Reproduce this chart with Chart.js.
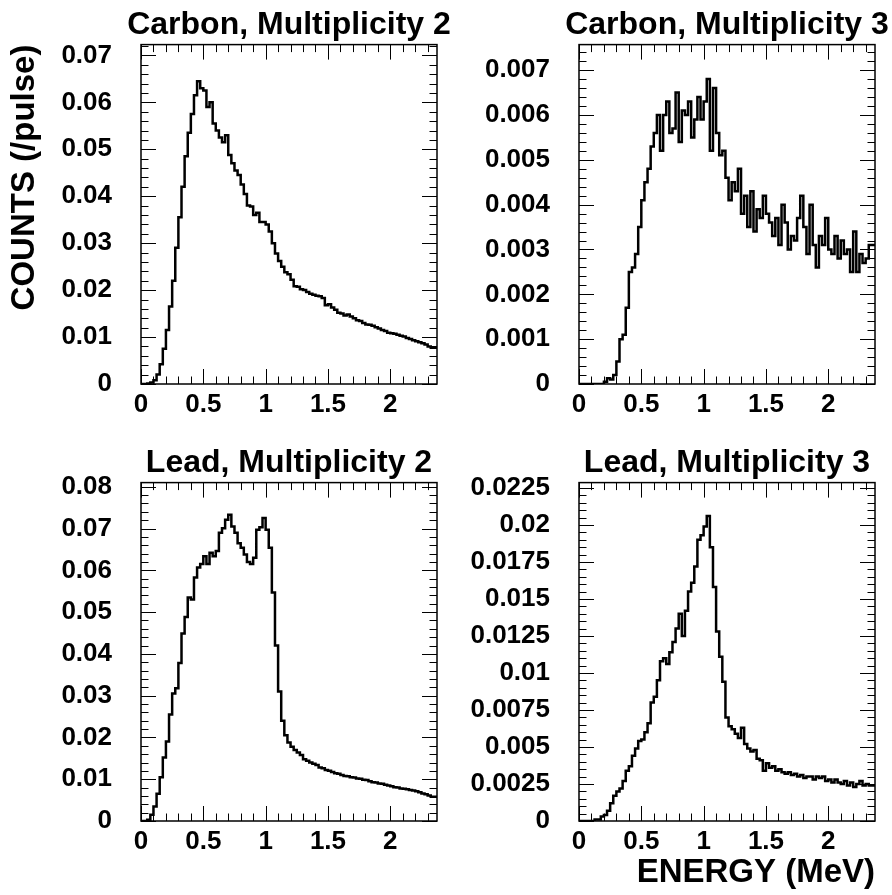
<!DOCTYPE html>
<html>
<head>
<meta charset="utf-8">
<script src="https://cdn.jsdelivr.net/npm/chart.js@4.4.1/dist/chart.umd.min.js"></script>
<style>
  body { margin: 0; background: #fff; }
  #page { position: relative; width: 892px; height: 895px; overflow: hidden; }
  canvas { position: absolute; }
</style>
</head>
<body>
<div id="page">
  <canvas id="carbon2" width="470" height="438" style="left:0;top:0"></canvas>
  <canvas id="carbon3" width="446" height="438" style="left:446px;top:0"></canvas>
  <canvas id="lead2" width="470" height="457" style="left:0;top:438px"></canvas>
  <canvas id="lead3" width="446" height="457" style="left:446px;top:438px"></canvas>
</div>
<script>
// histogram bins: 0.025 MeV wide, starting at 0
const BIN_WIDTH = 0.025;
const X_MAX = 2.375;

const xTicks = [0, 0.5, 1, 1.5, 2];
const carbon2Ticks = [0, 0.01, 0.02, 0.03, 0.04, 0.05, 0.06, 0.07];
const carbon3Ticks = [0, 0.001, 0.002, 0.003, 0.004, 0.005, 0.006, 0.007];
const lead2Ticks = [0, 0.01, 0.02, 0.03, 0.04, 0.05, 0.06, 0.07, 0.08];
const lead3Ticks = [0, 0.0025, 0.005, 0.0075, 0.01, 0.0125, 0.015, 0.0175, 0.02, 0.0225];

// counts per pulse, one value per bin
const carbon2 = [
  0, 0, 0, 0.0001, 0.0003, 0.0008, 0.002, 0.0042, 0.0075, 0.0115,
  0.0165, 0.022, 0.029, 0.0355, 0.042, 0.0485, 0.0535, 0.0575, 0.0615, 0.0645,
  0.063, 0.0625, 0.059, 0.060, 0.0555, 0.054, 0.0525, 0.0515, 0.053, 0.0488,
  0.047, 0.0455, 0.0445, 0.0425, 0.0405, 0.038, 0.0378, 0.036, 0.0365, 0.0345,
  0.0345, 0.034, 0.0325, 0.030, 0.0278, 0.0262, 0.025, 0.0238, 0.0234, 0.0222,
  0.0208, 0.0207, 0.0202, 0.020, 0.0196, 0.0192, 0.019, 0.0188, 0.0187, 0.0183,
  0.0168, 0.017, 0.0163, 0.0158, 0.0152, 0.015, 0.0146, 0.0148, 0.0144, 0.014,
  0.0136, 0.0134, 0.013, 0.0127, 0.0126, 0.0124, 0.0121, 0.0118, 0.0115, 0.0113,
  0.0109, 0.0108, 0.0107, 0.0105, 0.0103, 0.0101, 0.0098, 0.0096, 0.0093, 0.0091,
  0.0089, 0.0087, 0.0084, 0.008, 0.0077
];
const carbon3 = [
  0, 0, 0, 0, 0, 0, 0, 0, 0, 0.00005,
  0.00013, 0.0001, 0.0002, 0.0005, 0.001, 0.0011, 0.0017, 0.0025, 0.0026, 0.0029,
  0.0035, 0.0041, 0.0045, 0.0048, 0.0053, 0.0056, 0.006, 0.0052, 0.006, 0.0063,
  0.0056, 0.0057, 0.0065, 0.0054, 0.0061, 0.006, 0.0063, 0.0055, 0.0059, 0.0064,
  0.0059, 0.0063, 0.0068, 0.0052, 0.0066, 0.0056, 0.0051, 0.0052, 0.0046, 0.0041,
  0.0045, 0.0043, 0.0048, 0.0038, 0.0042, 0.0035, 0.0043, 0.0034, 0.0039, 0.0037,
  0.0042, 0.0038, 0.0036, 0.0033, 0.0037, 0.0031, 0.004, 0.0036, 0.003, 0.0033,
  0.0032, 0.0037, 0.0042, 0.0035, 0.0029, 0.004, 0.0031, 0.0026, 0.0033, 0.0031,
  0.0037, 0.003, 0.0029, 0.0033, 0.0028, 0.0032, 0.0029, 0.003, 0.0025, 0.0034,
  0.0025, 0.0029, 0.0027, 0.0028, 0.0031
];
const lead2 = [
  0, 0, 0, 0.0003, 0.0015, 0.0035, 0.0065, 0.0105, 0.0152, 0.019,
  0.0255, 0.0305, 0.0318, 0.0378, 0.0449, 0.0488, 0.0535, 0.053, 0.0583, 0.0607,
  0.0615, 0.0634, 0.0615, 0.0642, 0.0634, 0.0646, 0.069, 0.0701, 0.0721, 0.0733,
  0.0705, 0.069, 0.0665, 0.0654, 0.0638, 0.062, 0.0615, 0.063, 0.0697, 0.0703,
  0.0725, 0.0697, 0.0654, 0.0547, 0.042, 0.031, 0.024, 0.0205, 0.0188, 0.0178,
  0.017, 0.0164, 0.0158, 0.0148, 0.0144, 0.014, 0.0137, 0.0134, 0.0128, 0.0126,
  0.0122, 0.012, 0.0117, 0.0114, 0.0113, 0.011, 0.0108, 0.0107, 0.0105, 0.0104,
  0.0102, 0.0101, 0.0099, 0.0098, 0.0095, 0.0093, 0.0092, 0.009, 0.0089, 0.0087,
  0.0085, 0.0083, 0.0081, 0.008, 0.0078, 0.0077, 0.0076, 0.0074, 0.0073, 0.0071,
  0.0069, 0.0066, 0.0064, 0.0061, 0.0058
];
const lead3 = [
  0, 0, 0, 0, 0, 0, 0.0001, 0.0001, 0.0003, 0.0004,
  0.0007, 0.0012, 0.0017, 0.002, 0.0022, 0.0027, 0.0034, 0.0037, 0.0044, 0.0049,
  0.0054, 0.0055, 0.006, 0.0066, 0.008, 0.0084, 0.0095, 0.0108, 0.011, 0.0106,
  0.0114, 0.0121, 0.013, 0.014, 0.0125, 0.0142, 0.0155, 0.0161, 0.0172, 0.019,
  0.0193, 0.0199, 0.0206, 0.0185, 0.0158, 0.0128, 0.0111, 0.0094, 0.007, 0.0064,
  0.0062, 0.0059, 0.0056, 0.0063, 0.0052, 0.0049, 0.0047, 0.0048, 0.0042, 0.0041,
  0.0034, 0.0039, 0.0036, 0.0037, 0.0034, 0.0035, 0.0033, 0.0032, 0.0033, 0.0031,
  0.0032, 0.003, 0.0031, 0.0029, 0.003, 0.003, 0.0028, 0.003, 0.0029, 0.003,
  0.0027, 0.0028, 0.0026, 0.0028, 0.0026, 0.0025, 0.0027, 0.0024, 0.0026, 0.0023,
  0.0025, 0.0027, 0.0024, 0.0025, 0.0024
];

const FONT = "'Liberation Sans', Arial, Helvetica, sans-serif";

// ROOT style frame with inward ticks on all four sides, plus the pad title
const rootFrame = {
  id: "rootFrame",
  afterDatasetsDraw(chart, args, opts) {
    const { ctx, chartArea: a, scales } = chart;
    ctx.save();
    ctx.strokeStyle = "#000";
    ctx.lineWidth = 1;
    ctx.beginPath();
    const xs = scales.x;
    const xStep = (xs.ticks[1].value - xs.ticks[0].value) / 5;
    for (let k = 0; xs.min + k * xStep <= xs.max + 1e-9; k++) {
      const len = k % 5 === 0 ? 15 : 7.5;
      const px = Math.round(xs.getPixelForValue(xs.min + k * xStep)) + 0.5;
      ctx.moveTo(px, a.bottom);
      ctx.lineTo(px, a.bottom - len);
      ctx.moveTo(px, a.top);
      ctx.lineTo(px, a.top + len);
    }
    const ys = scales.y;
    const yStep = (ys.ticks[1].value - ys.ticks[0].value) / 5;
    for (let k = 0; ys.min + k * yStep <= ys.max + 1e-12; k++) {
      const len = k % 5 === 0 ? 15 : 7.5;
      const py = Math.round(ys.getPixelForValue(ys.min + k * yStep)) + 0.5;
      ctx.moveTo(a.left, py);
      ctx.lineTo(a.left + len, py);
      ctx.moveTo(a.right, py);
      ctx.lineTo(a.right - len, py);
    }
    ctx.stroke();
    ctx.lineWidth = 1.5;
    ctx.strokeRect(a.left, a.top, a.right - a.left, a.bottom - a.top);

    // title sits above the frame and may be wider than it
    ctx.fillStyle = "#000";
    ctx.font = "bold 32px " + FONT;
    ctx.textAlign = "center";
    ctx.textBaseline = "alphabetic";
    ctx.fillText(opts.text, (a.left + a.right) / 2, a.top - 11);
    ctx.restore();
  },
};

function histPoints(counts) {
  const pts = counts.map((v, i) => ({ x: i * BIN_WIDTH, y: v }));
  pts.push({ x: counts.length * BIN_WIDTH, y: counts[counts.length - 1] });
  return pts;
}

function makePanel(id, title, counts, yMax, yTicks, opts) {
  const tickFont = { family: FONT, size: 26, weight: "bold" };
  new Chart(document.getElementById(id), {
    type: "line",
    plugins: [rootFrame],
    data: {
      datasets: [{
        data: histPoints(counts),
        stepped: "after",
        borderColor: "#000",
        borderWidth: 2.5,
        pointRadius: 0,
        fill: false,
      }],
    },
    options: {
      responsive: false,
      animation: false,
      layout: { padding: { left: 0, right: opts.right, top: 41, bottom: 0 } },
      plugins: {
        legend: { display: false },
        tooltip: { enabled: false },
        title: { display: false },
        rootFrame: { text: title },
      },
      scales: {
        x: {
          type: "linear",
          min: 0,
          max: X_MAX,
          grid: { display: false, drawTicks: false },
          border: { display: false },
          afterBuildTicks: (s) => { s.ticks = xTicks.map((v) => ({ value: v })); },
          afterFit: (s) => { s.height = opts.xHeight; },
          ticks: {
            color: "#000",
            font: tickFont,
            padding: 5,
            maxRotation: 0,
            autoSkip: false,
            callback: (v) => String(v),
          },
          title: {
            display: !!opts.xTitle,
            text: opts.xTitle || "",
            align: "end",
            color: "#000",
            font: { family: FONT, size: 33, weight: "bold", lineHeight: 1.2 },
            padding: { top: 0, bottom: 2 },
          },
        },
        y: {
          type: "linear",
          min: 0,
          max: yMax,
          grid: { display: false, drawTicks: false },
          border: { display: false },
          afterBuildTicks: (s) => { s.ticks = yTicks.map((v) => ({ value: v })); },
          afterFit: (s) => { s.width = opts.yWidth; },
          ticks: {
            color: "#000",
            font: tickFont,
            padding: 29,
            autoSkip: false,
            callback: (v) => String(v),
          },
          title: {
            display: !!opts.yTitle,
            text: opts.yTitle || "",
            align: "end",
            color: "#000",
            font: { family: FONT, size: 33, weight: "bold", lineHeight: 1.2 },
            padding: { top: 5, bottom: 0 },
          },
        },
      },
    },
  });
}

makePanel("carbon2", "Carbon, Multiplicity 2", carbon2, 0.0723, carbon2Ticks,
  { yWidth: 141, xHeight: 54, right: 33, yTitle: "COUNTS (/pulse)" });
makePanel("carbon3", "Carbon, Multiplicity 3", carbon3, 0.00757, carbon3Ticks,
  { yWidth: 133, xHeight: 54, right: 17 });
makePanel("lead2", "Lead, Multiplicity 2", lead2, 0.081, lead2Ticks,
  { yWidth: 141, xHeight: 74, right: 33 });
makePanel("lead3", "Lead, Multiplicity 3", lead3, 0.02286, lead3Ticks,
  { yWidth: 133, xHeight: 74, right: 17, xTitle: "ENERGY (MeV)" });
</script>
</body>
</html>
